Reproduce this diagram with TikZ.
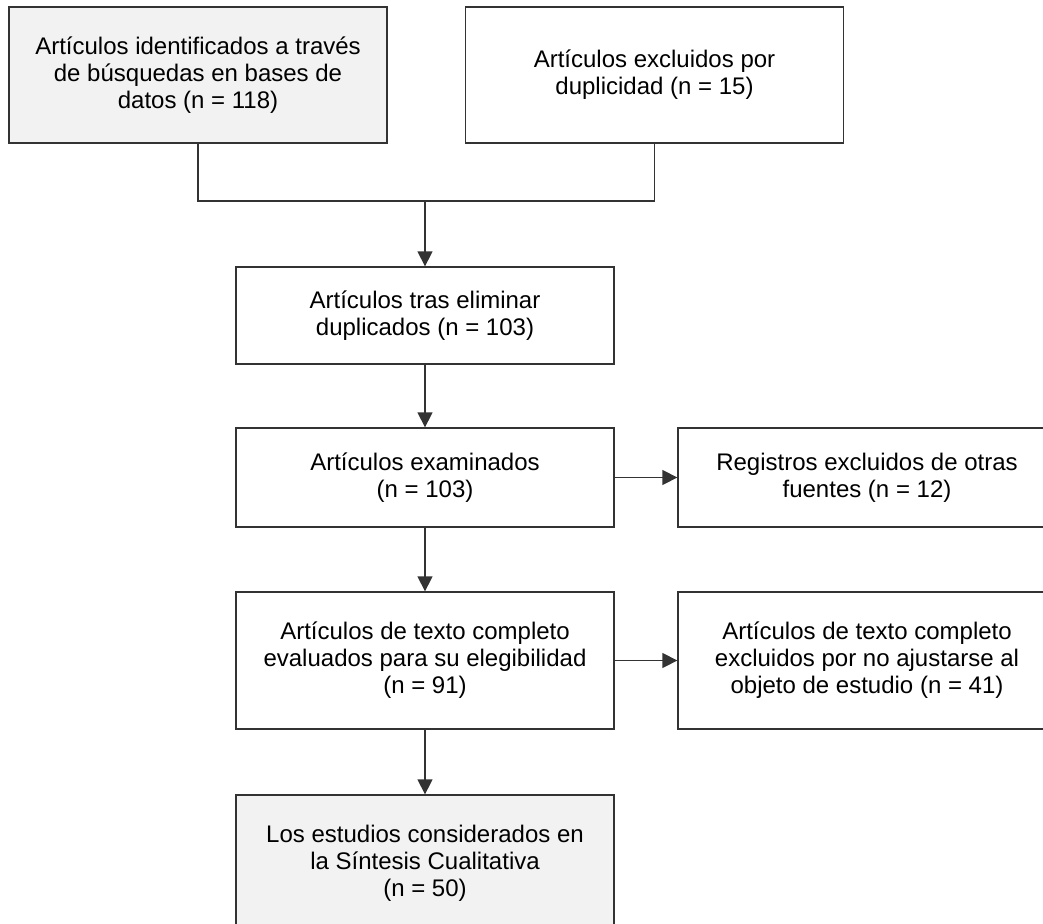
\documentclass[tikz,border=0pt]{standalone}
\usepackage{fontspec}
\setmainfont{Liberation Sans}
\usetikzlibrary{arrows.meta}

\begin{document}
\begin{tikzpicture}[x=1pt,y=-1pt,
    caja/.style={draw=black!80, line width=1.3pt, align=center, inner sep=0pt,
      minimum width=378pt, font=\fontsize{24}{27}\selectfont},
    gris/.style={caja, fill=black!5},
    linea/.style={draw=black!80, line width=1.3pt},
    flecha/.style={linea, -{Triangle[length=15pt,width=15pt]}}]
        \useasboundingbox (0,0) rectangle (1043,923);
        \clip (0,0) rectangle (1043,923);
        \coordinate (junta) at (425,201);
        \node[gris, minimum height=136pt] (ident) at (198,75)
            {Artículos identificados a través\\de búsquedas en bases de\\datos (n = 118)};
        \node[caja, minimum height=136pt] (dupl) at (654.5,75)
            {Artículos excluidos por\\duplicidad (n = 15)};
        \node[caja, minimum height=97pt] (tras) at (425,315.5)
            {Artículos tras eliminar\\duplicados (n = 103)};
        \node[caja, minimum height=99pt] (exam) at (425,477.5)
            {Artículos examinados\\(n = 103)};
        \node[caja, minimum height=99pt] (regis) at (867,477.5)
            {Registros excluidos de otras\\fuentes (n = 12)};
        \node[caja, minimum height=137pt] (eleg) at (425,660.5)
            {Artículos de texto completo\\evaluados para su elegibilidad\\(n = 91)};
        \node[caja, minimum height=137pt] (excl) at (867,660.5)
            {Artículos de texto completo\\excluidos por no ajustarse al\\objeto de estudio (n = 41)};
        \node[gris, minimum height=137pt] (sint) at (425,863.5)
            {Los estudios considerados en\\la Síntesis Cualitativa\\(n = 50)};
        \draw[linea] (ident.south) |- (junta) -| (dupl.south);
        \draw[flecha] (junta) -- (tras);
        \draw[flecha] (tras) -- (exam);
        \draw[flecha] (exam) -- (regis);
        \draw[flecha] (exam) -- (eleg);
        \draw[flecha] (eleg) -- (excl);
        \draw[flecha] (eleg) -- (sint);
    \end{tikzpicture}
\end{document}
